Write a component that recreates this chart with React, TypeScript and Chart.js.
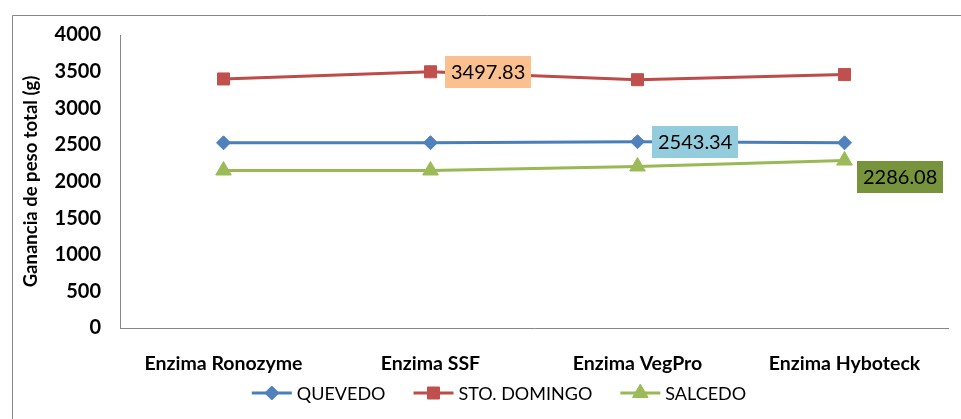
import React, { useEffect, useRef } from "react";
import { Chart, registerables } from "chart.js";

Chart.register(...registerables);

const categories = ["Enzima Ronozyme", "Enzima SSF", "Enzima VegPro", "Enzima Hyboteck"];
const seriesNames = ["QUEVEDO", "STO. DOMINGO", "SALCEDO"];
const quevedo = [2528, 2530, 2543.34, 2528];
const stoDomingo = [3400, 3497.83, 3390, 3460];
const salcedo = [2150, 2150, 2205, 2286.08];
const yTicksMin = 0;
const yTicksMax = 4000;
const yTickStep = 500;
const yTitle = "Ganancia de peso total (g)";

// data labels shown on selected points
const labelPoints = [
  { series: 1, index: 1, bg: "#FAC090", place: "right" },
  { series: 0, index: 2, bg: "#93CDDD", place: "right" },
  { series: 2, index: 3, bg: "#77933C", place: "belowRight" },
];

const FONT = "Lato";
const lineColors = ["#4A7EBB", "#BE4B48", "#98B954"];
const markerColors = ["#4F81BD", "#C0504D", "#9BBB59"];
const markerStyles = ["rectRot", "rect", "triangle"];
const markerRadii = [7, 8.5, 9];

const framePlugin = {
  id: "frame",
  beforeDraw(chart: any) {
    const ctx = chart.ctx;
    ctx.save();
    ctx.fillStyle = "#ffffff";
    ctx.fillRect(0, 0, chart.width, chart.height);
    ctx.strokeStyle = "#868686";
    ctx.lineWidth = 1;
    ctx.beginPath();
    ctx.moveTo(12.5, chart.height + 5);
    ctx.lineTo(12.5, 15.5);
    ctx.lineTo(chart.width + 5, 15.5);
    ctx.stroke();
    ctx.restore();
  },
};

const dataLabelPlugin = {
  id: "dataLabels",
  afterDatasetsDraw(chart: any) {
    const ctx = chart.ctx;
    ctx.save();
    ctx.font = `20px ${FONT}`;
    ctx.textBaseline = "middle";
    ctx.textAlign = "left";
    labelPoints.forEach((lp) => {
      const meta = chart.getDatasetMeta(lp.series);
      const el = meta.data[lp.index];
      const value = chart.data.datasets[lp.series].data[lp.index] as number;
      const text = value.toFixed(2);
      const tw = ctx.measureText(text).width;
      const w = tw + 12;
      const h = 32;
      let left = el.x + 14;
      let top = el.y - h / 2;
      if (lp.place === "belowRight") {
        left = el.x + 12;
        top = el.y;
      }
      ctx.fillStyle = lp.bg;
      ctx.fillRect(Math.round(left), Math.round(top), Math.round(w), h);
      ctx.fillStyle = "#000000";
      ctx.fillText(text, Math.round(left) + 6, Math.round(top) + h / 2 + 1);
    });
    ctx.restore();
  },
};

function drawMarker(ctx: CanvasRenderingContext2D, style: string, x: number, y: number, r: number) {
  ctx.beginPath();
  if (style === "rect") {
    const s = Math.SQRT1_2 * r;
    ctx.rect(x - s, y - s, 2 * s, 2 * s);
  } else if (style === "rectRot") {
    ctx.moveTo(x - r, y);
    ctx.lineTo(x, y - r);
    ctx.lineTo(x + r, y);
    ctx.lineTo(x, y + r);
    ctx.closePath();
  } else {
    ctx.moveTo(x, y - r);
    ctx.lineTo(x + Math.cos(Math.PI / 6) * r, y + r / 2);
    ctx.lineTo(x - Math.cos(Math.PI / 6) * r, y + r / 2);
    ctx.closePath();
  }
  ctx.fill();
  ctx.stroke();
}

const legendPlugin = {
  id: "customLegend",
  afterDraw(chart: any) {
    const ctx = chart.ctx;
    ctx.save();
    ctx.font = `18px ${FONT}`;
    ctx.textBaseline = "middle";
    ctx.textAlign = "left";
    const lineLen = 40;
    const gap = 5;
    const spacing = 28;
    const ds = chart.data.datasets;
    const widths = ds.map((d: any) => lineLen + gap + ctx.measureText(d.label).width);
    const total = widths.reduce((a: number, b: number) => a + b, 0) + spacing * (ds.length - 1);
    let x = 499 - total / 2;
    const y = 393;
    ds.forEach((d: any, i: number) => {
      ctx.strokeStyle = d.borderColor;
      ctx.lineWidth = 3;
      ctx.beginPath();
      ctx.moveTo(x, y);
      ctx.lineTo(x + lineLen, y);
      ctx.stroke();
      ctx.fillStyle = d.pointBackgroundColor;
      ctx.strokeStyle = d.pointBorderColor;
      ctx.lineWidth = 1;
      drawMarker(ctx, d.pointStyle, x + lineLen / 2, y, d.pointRadius);
      ctx.fillStyle = "#000000";
      ctx.fillText(d.label, x + lineLen + gap, y + 1);
      x += widths[i] + spacing;
    });
    ctx.restore();
  },
};

export default function App() {
  const ref = useRef<HTMLCanvasElement | null>(null);
  useEffect(() => {
    if (!ref.current) return;
    const values = [quevedo, stoDomingo, salcedo];
    const chart = new Chart(ref.current, {
      type: "line",
      data: {
        labels: categories,
        datasets: seriesNames.map((name, i) => ({
          label: name,
          data: values[i],
          borderColor: lineColors[i],
          borderWidth: 3,
          pointStyle: markerStyles[i] as any,
          pointRadius: markerRadii[i],
          pointBackgroundColor: markerColors[i],
          pointBorderColor: markerColors[i],
          pointBorderWidth: 1,
          tension: 0,
          fill: false,
        })),
      },
      options: {
        animation: false,
        responsive: false,
        maintainAspectRatio: false,
        events: [],
        layout: { padding: { left: 12, top: 35, right: 13, bottom: 41 } },
        plugins: {
          legend: { display: false },
          tooltip: { enabled: false },
          title: { display: false },
        },
        scales: {
          x: {
            offset: true,
            grid: { display: false, drawTicks: false },
            border: { display: true, color: "#868686", width: 1 },
            ticks: {
              color: "#000000",
              font: { family: FONT, size: 19.5, weight: "bold" },
              padding: 24,
              maxRotation: 0,
              autoSkip: false,
            },
            afterFit: (s: any) => {
              s.height = 50;
            },
          },
          y: {
            min: yTicksMin,
            max: yTicksMax,
            grid: { display: false, drawTicks: false },
            border: { display: true, color: "#868686", width: 1 },
            ticks: {
              stepSize: yTickStep,
              color: "#000000",
              font: { family: FONT, size: 20, weight: "bold" },
              padding: 19,
              callback: (v: any) => String(v),
            },
            title: {
              display: true,
              text: yTitle,
              color: "#000000",
              font: { family: FONT, size: 18.5, weight: "bold" },
              padding: { top: 8, bottom: 0 },
            },
            afterFit: (s: any) => {
              s.width = 108;
            },
          },
        },
      },
      plugins: [framePlugin, dataLabelPlugin, legendPlugin],
    });
    return () => chart.destroy();
  }, []);
  return (
    <div style={{ position: "fixed", left: 0, top: 0, width: 961, height: 419, background: "#fff" }}>
      <canvas ref={ref} width={961} height={419} style={{ display: "block", width: 961, height: 419 }} />
    </div>
  );
}
